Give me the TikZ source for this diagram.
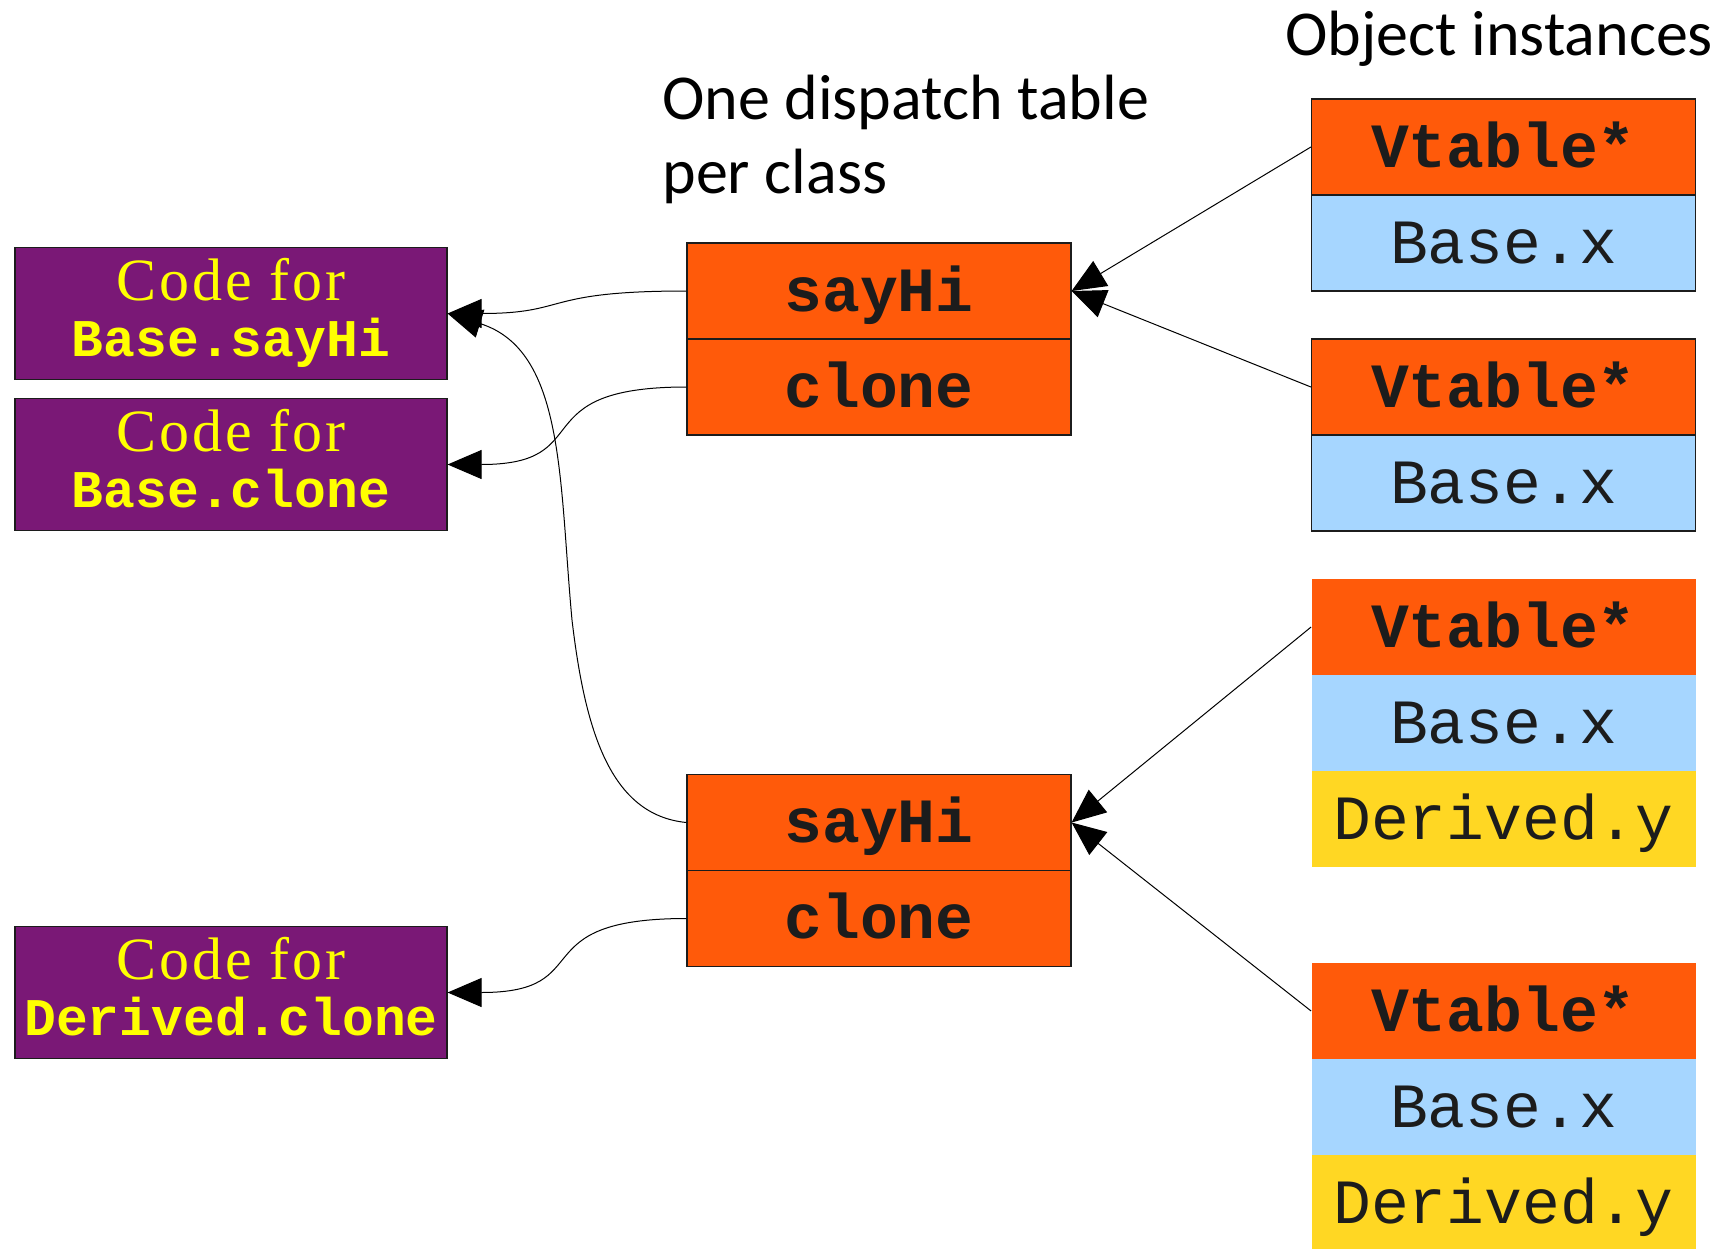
\documentclass[tikz,border=0pt]{standalone}
\usepackage{fontspec}
\setmainfont{Liberation Serif}
\newfontfamily\titlefont{Carlito}
\newfontfamily\monofont{Liberation Mono}
\newfontfamily\codeserif[LetterSpace=5]{Liberation Serif}
\usetikzlibrary{arrows.meta}
\definecolor{vorange}{RGB}{255,90,10}
\definecolor{vblue}{RGB}{166,214,255}
\definecolor{vyellow}{RGB}{255,215,35}
\definecolor{vpurple}{RGB}{122,24,118}
\definecolor{vtext}{RGB}{28,28,28}
\definecolor{codeyellow}{RGB}{255,255,0}
\tikzset{
  cellbase/.style={rectangle, inner sep=0pt, minimum width=192pt, minimum height=48pt,
    text=vtext, text height=20pt, text depth=0pt},
  orangecell/.style={cellbase, fill=vorange, font=\monofont\bfseries\fontsize{31.5}{31.5}\selectfont},
  bluecell/.style={cellbase, fill=vblue, font=\monofont\fontsize{31.5}{31.5}\selectfont},
  yellowcell/.style={cellbase, fill=vyellow, font=\monofont\fontsize{31.5}{31.5}\selectfont},
  framed/.style={draw=vtext, line width=0.6pt},
  codebox/.style={rectangle, inner sep=0pt, minimum width=216pt, minimum height=66pt,
    fill=vpurple, draw=vtext, line width=0.6pt},
  codeline1/.style={anchor=base, inner sep=0pt, text=codeyellow, font=\codeserif\fontsize{30}{30}\selectfont},
  codeline2/.style={anchor=base, inner sep=0pt, text=codeyellow, font=\monofont\bfseries\fontsize{26.5}{26.5}\selectfont},
  titletext/.style={anchor=base west, inner sep=0pt, font=\titlefont\fontsize{32}{32}\selectfont, text=black},
  conn/.style={-{Triangle[length=17pt,width=14.5pt]}, line width=0.5pt, draw=black}
}
\begin{document}
\begin{tikzpicture}[x=0.5pt,y=-0.5pt]
\useasboundingbox (0,0) rectangle (1730,1248);
\fill[white] (0,0) rectangle (1730,1248);

% titles
\node[titletext] (t1) at (1285,55) {Object instances};
\node[titletext] (t2) at (662,119) {One dispatch table};
\node[titletext] (t3) at (662,193) {per class};

% code boxes
\node[codebox] (cb1) at (231,313.5) {};
\node[codeline1] (cb1a) at (231,300) {Code for};
\node[codeline2] (cb1b) at (231,356.5) {Base.sayHi};
\node[codebox] (cb2) at (231,464.5) {};
\node[codeline1] (cb2a) at (231,451) {Code for};
\node[codeline2] (cb2b) at (231,507.5) {Base.clone};
\node[codebox] (cb3) at (231,992.5) {};
\node[codeline1] (cb3a) at (231,979) {Code for};
\node[codeline2] (cb3b) at (231,1035.5) {Derived.clone};

% dispatch tables
\node[orangecell, framed] (d1s) at (879,291) {sayHi};
\node[orangecell, framed] (d1c) at (879,387) {clone};
\node[orangecell, framed] (d2s) at (879,822.5) {sayHi};
\node[orangecell, framed] (d2c) at (879,918.5) {clone};

% object instances
\node[orangecell, framed] (i1v) at (1503.5,147) {Vtable*};
\node[bluecell, framed] (i1b) at (1503.5,243) {Base.x};
\node[orangecell, framed] (i2v) at (1503.5,387) {Vtable*};
\node[bluecell, framed] (i2b) at (1503.5,483) {Base.x};
\node[orangecell] (i3v) at (1503.5,627) {Vtable*};
\node[bluecell] (i3b) at (1503.5,723) {Base.x};
\node[yellowcell] (i3d) at (1503.5,819) {Derived.y};
\node[orangecell] (i4v) at (1503.5,1011) {Vtable*};
\node[bluecell] (i4b) at (1503.5,1107) {Base.x};
\node[yellowcell] (i4d) at (1503.5,1203) {Derived.y};

% instance -> dispatch table
\draw[conn] (i1v.west) -- (d1s.east);
\draw[conn] (i2v.west) -- (d1s.east);
\draw[conn] (i3v.west) -- (d2s.east);
\draw[conn] (i4v.west) -- (d2s.east);

% dispatch table -> code
\draw[conn] (d1s.west) .. controls (540,291) and (570,313.5) .. (cb1.east);
\draw[conn] (d1c.west) .. controls (520,387) and (600,464.5) .. (cb2.east);
\draw[conn] (d2s.west) .. controls (610,815) and (585,730) .. (572,620)
            .. controls (559,480) and (565,350) .. (cb1.east);
\draw[conn] (d2c.west) .. controls (520,918.5) and (600,992.5) .. (cb3.east);
\end{tikzpicture}
\end{document}
